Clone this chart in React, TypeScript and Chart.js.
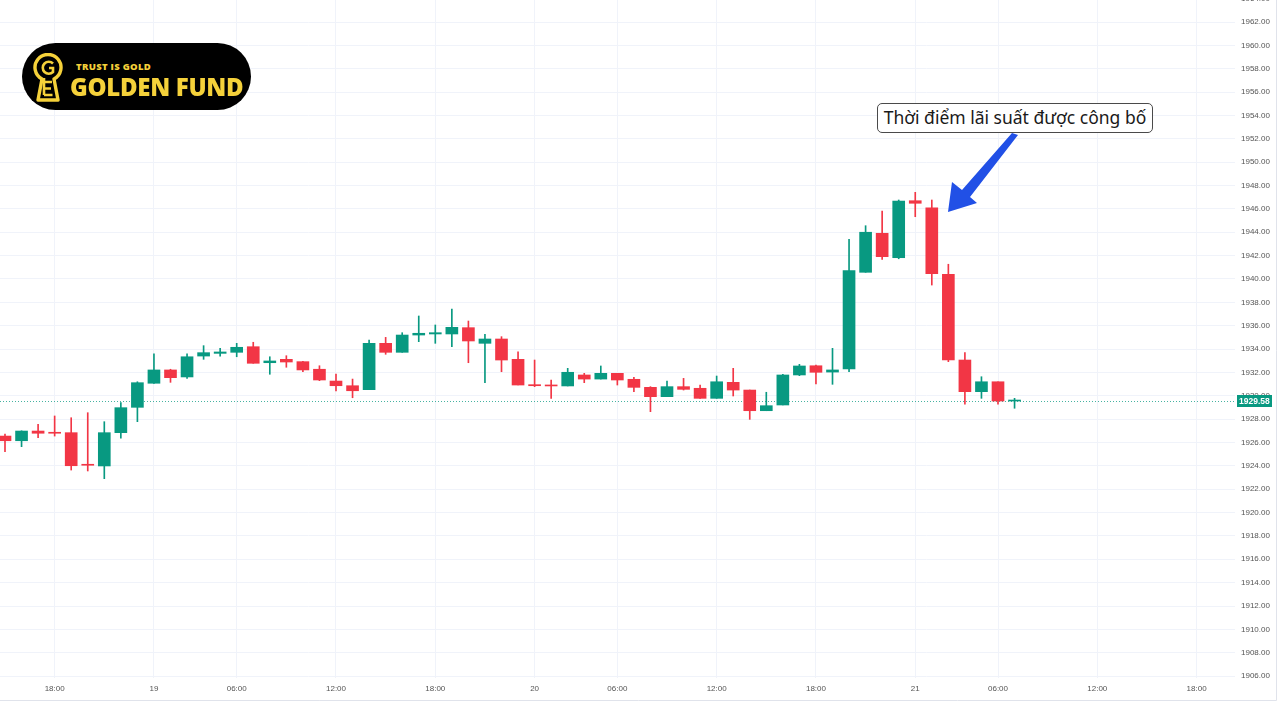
import React, { useEffect, useRef } from "react";
import { Chart, registerables } from "chart.js";

Chart.register(...registerables);

// OHLC values (1h bars, XAUUSD), indexed from the first visible bar
const opens = [
  1926.55, 1926.15, 1926.98, 1926.87, 1926.84, 1924.13, 1923.99, 1926.84, 1929.01, 1931.07,
  1932.21, 1931.61, 1933.4, 1933.63, 1933.72, 1934.2, 1932.83, 1933.12, 1932.92, 1932.27,
  1931.26, 1930.86, 1930.52, 1934.49, 1933.72, 1935.2, 1935.29, 1935.29, 1935.83, 1934.49,
  1934.86, 1933.12, 1930.95, 1930.92, 1930.84, 1931.78, 1931.43, 1931.92, 1931.41, 1930.72,
  1929.92, 1930.78, 1930.64, 1929.78, 1931.15, 1930.49, 1928.72, 1929.21, 1931.78, 1932.57,
  1932.03, 1932.29, 1940.57, 1943.91, 1941.82, 1946.7, 1946.1, 1940.4, 1933.06, 1930.35,
  1931.2, 1929.55,
];
const highs = [
  1926.73, 1927.0, 1927.56, 1928.27, 1928.12, 1928.55, 1927.78, 1929.41, 1931.2, 1933.58,
  1932.27, 1933.58, 1934.29, 1934.06, 1934.49, 1934.58, 1933.34, 1933.43, 1932.95, 1932.57,
  1931.86, 1931.43, 1934.77, 1935.0, 1935.4, 1936.83, 1936.06, 1937.43, 1936.4, 1935.26,
  1935.06, 1933.77, 1933.06, 1931.35, 1932.35, 1931.92, 1932.55, 1931.92, 1931.58, 1930.78,
  1931.26, 1931.49, 1930.92, 1931.69, 1932.35, 1930.49, 1930.3, 1931.84, 1932.69, 1932.63,
  1934.06, 1943.4, 1944.56, 1945.82, 1946.76, 1947.42, 1946.76, 1941.26, 1933.69, 1931.63,
  1931.2, 1929.78,
];
const lows = [
  1925.21, 1925.64, 1926.41, 1926.55, 1923.64, 1923.56, 1922.9, 1926.36, 1927.78, 1931.05,
  1931.15, 1931.49, 1933.12, 1933.4, 1933.34, 1932.78, 1931.84, 1932.44, 1932.06, 1931.29,
  1930.41, 1929.83, 1930.52, 1933.55, 1933.72, 1934.63, 1934.49, 1934.2, 1932.83, 1931.12,
  1932.06, 1930.92, 1930.78, 1929.78, 1930.84, 1931.12, 1931.43, 1930.92, 1930.35, 1928.64,
  1929.92, 1930.49, 1929.78, 1929.78, 1929.98, 1927.98, 1928.72, 1929.21, 1931.72, 1931.01,
  1930.98, 1932.06, 1940.57, 1941.68, 1941.73, 1945.33, 1939.48, 1932.92, 1929.29, 1929.78,
  1929.29, 1928.93,
];
const closes = [
  1926.15, 1926.98, 1926.79, 1926.79, 1924.01, 1924.05, 1926.84, 1928.98, 1931.12, 1932.21,
  1931.55, 1933.34, 1933.69, 1933.75, 1934.15, 1932.78, 1932.98, 1932.89, 1932.21, 1931.35,
  1930.86, 1930.43, 1934.49, 1933.72, 1935.2, 1935.35, 1935.4, 1935.86, 1934.69, 1934.86,
  1933.06, 1930.92, 1930.86, 1930.84, 1932.01, 1931.43, 1931.92, 1931.35, 1930.72, 1929.92,
  1930.78, 1930.55, 1929.78, 1931.2, 1930.49, 1928.72, 1929.15, 1931.78, 1932.55, 1932.01,
  1932.21, 1940.71, 1944.0, 1941.91, 1946.67, 1946.48, 1940.45, 1933.06, 1930.35, 1931.2,
  1929.55, 1929.58,
];
const lastPrice = 1929.58;

// time-axis labels and the bar index they sit on
const tickBars = [3, 9, 14, 20, 26, 32, 37, 43, 49, 55, 60, 66, 72];
const tickLabels = ["18:00", "19", "06:00", "12:00", "18:00", "20", "06:00", "12:00", "18:00", "21", "06:00", "12:00", "18:00"];

// visible ranges
const xMin = -0.302;
const xMax = 74.32;
const yMin = 1905.836;
const yMax = 1963.884;
const priceStep = 2;

const UP = "#089981";
const DOWN = "#F23645";
const GRID = "#f0f3fa";
const FONT = "'Liberation Sans', Arial, sans-serif";

export default function App() {
  const ref = useRef<HTMLCanvasElement | null>(null);

  useEffect(() => {
    document.body.style.margin = "0";
    const canvas = ref.current;
    if (!canvas) return;
    const colors = closes.map((c, i) => (c >= opens[i] ? UP : DOWN));

    const decor = {
      id: "decor",
      beforeDatasetsDraw(chart: any) {
        const { ctx, chartArea } = chart;
        const y = Math.round(chart.scales.y.getPixelForValue(lastPrice)) + 0.5;
        ctx.save();
        ctx.strokeStyle = "rgba(8,153,129,0.75)";
        ctx.lineWidth = 1;
        ctx.setLineDash([1, 2]);
        ctx.beginPath();
        ctx.moveTo(chartArea.left, y);
        ctx.lineTo(chartArea.right, y);
        ctx.stroke();
        ctx.restore();
      },
      afterDraw(chart: any) {
        const { ctx, chartArea } = chart;
        const ys = chart.scales.y;
        ctx.save();
        // clipped top label
        ctx.font = "8px " + FONT;
        ctx.fillStyle = "#555";
        ctx.textBaseline = "middle";
        ctx.textAlign = "left";
        const topTick = Math.ceil(yMax / priceStep) * priceStep;
        ctx.fillText(topTick.toFixed(2), chartArea.right + 6, ys.getPixelForValue(topTick));
        // last price badge
        const py = ys.getPixelForValue(lastPrice);
        ctx.fillStyle = UP;
        ctx.fillRect(chartArea.right + 2, Math.round(py) - 6, 35, 12);
        ctx.fillStyle = "#fff";
        ctx.font = "bold 8.5px " + FONT;
        ctx.fillText(lastPrice.toFixed(2), chartArea.right + 4, py + 0.5);
        // outer frame lines
        ctx.strokeStyle = "#e0e3eb";
        ctx.lineWidth = 1;
        ctx.beginPath();
        ctx.moveTo(0, 700.5);
        ctx.lineTo(1276.5, 700.5);
        ctx.moveTo(1276.5, 0);
        ctx.lineTo(1276.5, 700.5);
        ctx.stroke();
        ctx.restore();
      },
    };

    const noPad = (s: any) => {
      s.paddingTop = 0;
      s.paddingBottom = 0;
      s.paddingLeft = 0;
      s.paddingRight = 0;
    };

    const chart = new Chart(canvas, {
      type: "bar",
      data: {
        datasets: [
          {
            label: "body",
            data: opens.map((o, i) => ({ x: i, y: [o, closes[i]] })) as any,
            backgroundColor: colors,
            borderWidth: 0,
            barThickness: 12,
            minBarLength: 1,
            grouped: false,
            order: 0,
          } as any,
          {
            label: "wick",
            data: lows.map((l, i) => ({ x: i, y: [l, highs[i]] })) as any,
            backgroundColor: colors,
            borderWidth: 0,
            barThickness: 1,
            grouped: false,
            order: 1,
          } as any,
        ],
      },
      plugins: [decor],
      options: {
        responsive: false,
        animation: false,
        layout: { padding: { left: 0, top: 0, right: 4, bottom: 20 } },
        plugins: { legend: { display: false }, tooltip: { enabled: false } },
        scales: {
          x: {
            type: "linear",
            min: xMin,
            max: xMax,
            offset: false,
            grid: { color: GRID, offset: false, drawTicks: false },
            border: { display: false },
            afterBuildTicks: (s: any) => {
              s.ticks = tickBars.map((v) => ({ value: v }));
            },
            afterFit: (s: any) => {
              s.height = 22;
              noPad(s);
            },
            ticks: {
              autoSkip: false,
              maxRotation: 0,
              padding: 6,
              color: "#555",
              font: { size: 8, family: FONT },
              callback: (v: any) => {
                const k = tickBars.indexOf(Number(v));
                return k >= 0 ? tickLabels[k] : "";
              },
            },
          },
          y: {
            type: "linear",
            position: "right",
            min: yMin,
            max: yMax,
            beginAtZero: false,
            grid: { color: GRID, drawTicks: false },
            border: { display: false },
            afterBuildTicks: (s: any) => {
              const t: any[] = [];
              for (let v = Math.ceil(yMin / priceStep) * priceStep; v <= yMax; v += priceStep) t.push({ value: v });
              s.ticks = t;
            },
            afterFit: (s: any) => {
              s.width = 41;
              noPad(s);
            },
            ticks: {
              padding: 6,
              color: "#555",
              font: { size: 8, family: FONT },
              callback: (v: any) => Number(v).toFixed(2),
            },
          },
        },
      } as any,
    });
    return () => chart.destroy();
  }, []);

  const gold = "#f5d13a";
  return (
    <div style={{ position: "relative", width: 1280, height: 720, background: "#fff", overflow: "hidden" }}>
      <canvas ref={ref} width={1280} height={720} style={{ position: "absolute", left: 0, top: 0 }} />
      {/* logo */}
      <div
        style={{
          position: "absolute",
          left: 22,
          top: 43,
          width: 229,
          height: 67,
          borderRadius: 34,
          background: "#000",
        }}
      >
        <svg width={32} height={50} style={{ position: "absolute", left: 10, top: 10 }} viewBox="0 0 32 50">
          <path d="M10 26 A13 13 0 1 1 22 26 L26 47 L6 47 Z" fill="none" stroke={gold} strokeWidth={3.4} strokeLinejoin="round" />
          <path d="M21 10.5 A6 6 0 1 0 21 19 L21 15 L17 15" fill="none" stroke={gold} strokeWidth={2.6} />
          <path d="M12 25 V42 M12 29 H20 M12 35.5 H19 M12 42 H20.5" fill="none" stroke={gold} strokeWidth={2.6} />
        </svg>
        <div
          style={{
            position: "absolute",
            left: 54,
            top: 17,
            fontFamily: "'Open Sans', sans-serif",
            fontWeight: 800,
            fontSize: 9.5,
            color: gold,
            letterSpacing: 0.3,
            whiteSpace: "nowrap",
          }}
        >
          TRUST IS GOLD
        </div>
        <div
          style={{
            position: "absolute",
            left: 48,
            top: 27,
            fontFamily: "'Open Sans', sans-serif",
            fontWeight: 800,
            fontSize: 24,
            color: gold,
            letterSpacing: -0.3,
            whiteSpace: "nowrap",
          }}
        >
          GOLDEN FUND
        </div>
      </div>
      {/* annotation */}
      <div
        style={{
          position: "absolute",
          left: 877,
          top: 103,
          width: 276,
          height: 30,
          boxSizing: "border-box",
          border: "1px solid #4a4a4a",
          borderRadius: 5,
          background: "#fff",
          fontFamily: "'Noto Sans', sans-serif",
          fontSize: 17.5,
          color: "#1a1a1a",
          textAlign: "center",
          lineHeight: "27px",
          whiteSpace: "nowrap",
        }}
      >
        Thời điểm lãi suất được công bố
      </div>
      <svg width={1280} height={720} style={{ position: "absolute", left: 0, top: 0, pointerEvents: "none" }}>
        <polygon points="1012,133 1018,135 970,197 977,203 948,212 952,182 962,190" fill="#2150e6" />
      </svg>
    </div>
  );
}
